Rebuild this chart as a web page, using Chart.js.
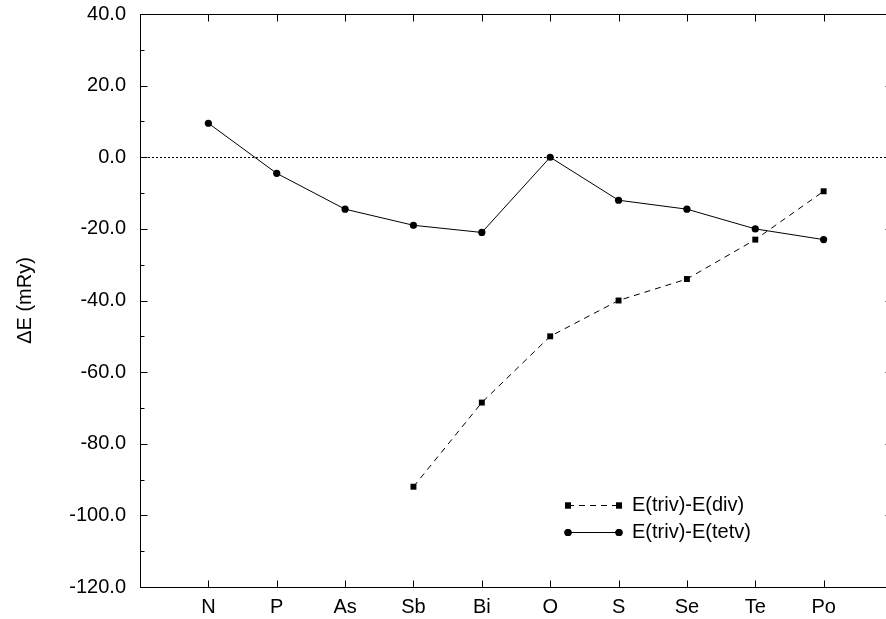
<!DOCTYPE html>
<html>
<head>
<meta charset="utf-8">
<script src="https://cdn.jsdelivr.net/npm/chart.js@4/dist/chart.umd.min.js"></script>
<style>
  html, body { margin: 0; padding: 0; background: #fff; overflow: hidden; }
  #wrap { width: 900px; height: 619px; }
</style>
</head>
<body>
<div id="wrap"><canvas id="lineChart" width="900" height="619"></canvas></div>
<script>
var elements = ['N', 'P', 'As', 'Sb', 'Bi', 'O', 'S', 'Se', 'Te', 'Po'];
var trivDiv = [null, null, null, -92, -68.5, -50, -40, -34, -23, -9.5];
var trivTetv = [9.5, -4.5, -14.5, -19, -21, 0, -12, -14.5, -20, -23];
var seriesNames = ['E(triv)-E(div)', 'E(triv)-E(tetv)'];
var yTicks = [-120, -100, -80, -60, -40, -20, 0, 20, 40];

var FONT = '"Liberation Sans", Arial, Helvetica, sans-serif';

function toPoints(arr) {
    var out = [];
    arr.forEach(function (v, i) {
        if (v !== null) out.push({x: i + 1, y: v});
    });
    return out;
}

// frame, inward ticks, zero line and legend
var decor = {
    id: 'decor',
    beforeDatasetsDraw: function (chart) {
        var ctx = chart.ctx, a = chart.chartArea, y = chart.scales.y;
        var y0 = Math.round(y.getPixelForValue(0)) + 0.5;
        ctx.save();
        ctx.strokeStyle = '#000';
        ctx.lineWidth = 1;
        ctx.setLineDash([2, 2]);
        ctx.beginPath();
        ctx.moveTo(a.left, y0);
        ctx.lineTo(a.right, y0);
        ctx.stroke();
        ctx.restore();
    },
    afterDraw: function (chart) {
        var ctx = chart.ctx, a = chart.chartArea;
        var xs = chart.scales.x, ys = chart.scales.y;
        var L = Math.round(a.left) + 0.5, R = Math.round(a.right) + 0.5;
        var T = Math.round(a.top) + 0.5, B = Math.round(a.bottom) + 0.5;
        ctx.save();
        ctx.strokeStyle = '#000';
        ctx.lineWidth = 1;
        ctx.setLineDash([]);
        ctx.strokeRect(L, T, R - L, B - T);
        ctx.beginPath();
        for (var i = 1; i <= elements.length; i++) {
            var px = Math.round(xs.getPixelForValue(i)) + 0.5;
            ctx.moveTo(px, T); ctx.lineTo(px, T + 7);
            ctx.moveTo(px, B); ctx.lineTo(px, B - 7);
        }
        for (var v = -120; v <= 40; v += 10) {
            var py = Math.round(ys.getPixelForValue(v)) + 0.5;
            var len = (v % 20 === 0) ? 7 : 4;
            ctx.moveTo(L, py); ctx.lineTo(L + len, py);
            ctx.moveTo(R, py); ctx.lineTo(R - len, py);
        }
        ctx.stroke();

        // legend
        var lx0 = 568, lx1 = 619, tx = 632;
        var rows = [505, 532];
        chart.data.datasets.forEach(function (ds, k) {
            var ly = rows[k] + 0.5;
            ctx.strokeStyle = '#000';
            ctx.lineWidth = 1;
            ctx.setLineDash(ds.borderDash || []);
            ctx.beginPath();
            ctx.moveTo(lx0, ly); ctx.lineTo(lx1, ly);
            ctx.stroke();
            ctx.setLineDash([]);
            ctx.fillStyle = '#000';
            [lx0, lx1].forEach(function (px) {
                Chart.helpers.drawPoint(ctx, {pointStyle: ds.pointStyle, radius: ds.pointRadius, rotation: 0, borderWidth: 0}, px, ly);
                ctx.fill();
            });
            ctx.font = '20px ' + FONT;
            ctx.textBaseline = 'middle';
            ctx.textAlign = 'left';
            ctx.fillText(ds.label, tx, ly);
        });
        ctx.restore();
    }
};

var ctx = document.getElementById('lineChart');
new Chart(ctx, {
    type: 'line',
    data: {
        datasets: [{
            label: seriesNames[0],
            data: toPoints(trivDiv),
            borderColor: '#000',
            backgroundColor: '#000',
            borderWidth: 1,
            borderDash: [6, 5],
            pointStyle: 'rect',
            pointRadius: 4.2,
            pointBorderWidth: 0,
            tension: 0,
            fill: false
        }, {
            label: seriesNames[1],
            data: toPoints(trivTetv),
            borderColor: '#000',
            backgroundColor: '#000',
            borderWidth: 1,
            pointStyle: 'circle',
            pointRadius: 3.6,
            pointBorderWidth: 0,
            tension: 0,
            fill: false
        }]
    },
    options: {
        responsive: false,
        animation: false,
        devicePixelRatio: 1,
        layout: {padding: {top: 14, right: 8, left: 0, bottom: 0}},
        plugins: {
            legend: {display: false},
            tooltip: {enabled: false}
        },
        scales: {
            x: {
                type: 'linear',
                min: 0,
                max: elements.length + 1,
                grid: {display: false},
                border: {display: false},
                afterFit: function (s) { s.height = 32; s.paddingLeft = 0; s.paddingRight = 0; },
                afterBuildTicks: function (s) {
                    s.ticks = elements.map(function (e, i) { return {value: i + 1}; });
                },
                ticks: {
                    padding: 0,
                    color: '#000',
                    font: {family: FONT, size: 20},
                    callback: function (v) { return elements[v - 1] || ''; }
                }
            },
            y: {
                min: -120,
                max: 40,
                grid: {display: false},
                border: {display: false},
                afterFit: function (s) { s.width = 140; s.paddingTop = 0; s.paddingBottom = 0; },
                afterBuildTicks: function (s) {
                    s.ticks = yTicks.map(function (v) { return {value: v}; });
                },
                ticks: {
                    padding: 6,
                    color: '#000',
                    font: {family: FONT, size: 20},
                    callback: function (v) { return v.toFixed(1); }
                },
                title: {
                    display: true,
                    text: 'ΔE (mRy)',
                    color: '#000',
                    font: {family: FONT, size: 20},
                    padding: {top: 13, bottom: 0}
                }
            }
        }
    },
    plugins: [decor]
});
</script>
</body>
</html>
